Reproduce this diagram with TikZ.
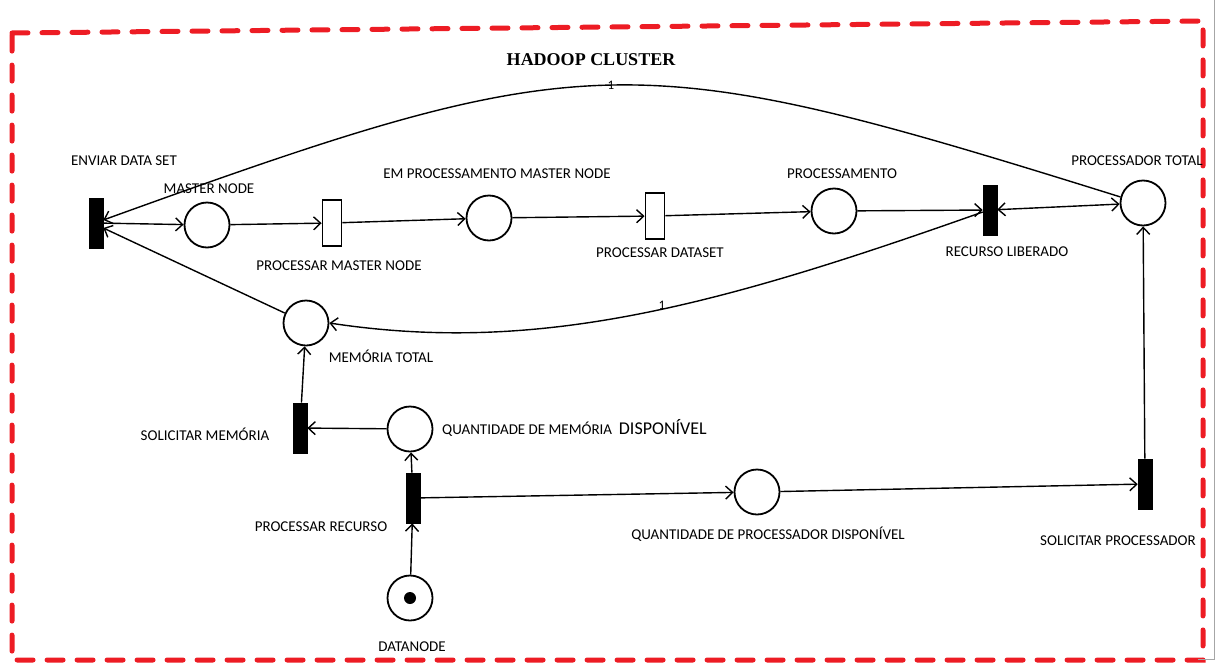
\documentclass[tikz,border=0pt]{standalone}
\usepackage{fontspec}
\setmainfont{Carlito}
\newfontfamily\titlefont{Liberation Serif}
\usetikzlibrary{arrows.meta}
\definecolor{clusterred}{RGB}{237,28,36}
\begin{document}
\begin{tikzpicture}[x=1pt,y=-1pt,
  place/.style={circle, draw=black, line width=1.8pt, minimum size=45pt, inner sep=0pt},
  bartrans/.style={rectangle, fill=black, draw=black, line width=0.6pt,
    minimum width=14pt, minimum height=50pt, inner sep=0pt},
  opentrans/.style={rectangle, draw=black, fill=white, line width=1.8pt,
    minimum width=19pt, minimum height=46pt, inner sep=0pt},
  token/.style={circle, fill=black, minimum size=12pt, inner sep=0pt},
  lbl/.style={font=\fontsize{15}{18}\selectfont, inner sep=0pt,
    text height=9.7pt, text depth=0pt},
  weight/.style={font=\fontsize{13}{15}\selectfont, inner sep=0pt},
  arc/.style={line width=1.4pt,
    -{Straight Barb[length=7pt,width=13pt,line width=1.4pt]}},
  twoway/.style={line width=1.4pt,
    {Straight Barb[length=7pt,width=13pt,line width=1.4pt]}-{Straight Barb[length=7pt,width=13pt,line width=1.4pt]}},
  frame/.style={draw=clusterred, line width=5pt, line cap=round,
    dash pattern=on 16pt off 14pt},
]
\useasboundingbox (0,0) rectangle (1217,664);

% cluster frame
\coordinate (f1) at (12,33);
\coordinate (f2) at (1203,21);
\coordinate (f3) at (1203,660);
\coordinate (f4) at (12,660);
\draw[frame] (f1) -- (f2) -- (f3) -- (f4) -- cycle;
\coordinate (e1) at (1214,0);
\coordinate (e2) at (1214,659);
\coordinate (e3) at (1198,659);
\draw[gray!70, line width=0.8pt] (e1) -- (e2) -- (e3);

\node[font=\titlefont\bfseries\fontsize{18}{20}\selectfont, inner sep=0pt] (title) at (591,60) {HADOOP CLUSTER};

% places
\node[place] (mn)   at (207,225) {};
\node[place] (emp)  at (489,218) {};
\node[place] (proc) at (834,211) {};
\node[place] (pt)   at (1143,203) {};
\node[place] (mt)   at (306,323) {};
\node[place] (qm)   at (410,429) {};
\node[place] (qp)   at (757,492) {};
\node[place] (dn)   at (410,598) {};
\node[token] (tok)  at (410,598) {};

% transitions
\node[bartrans]  (env) at (96,223) {};
\node[opentrans] (pmn) at (332,223) {};
\node[opentrans] (pds) at (655,216) {};
\node[bartrans]  (rl)  at (990,210) {};
\node[bartrans]  (sm)  at (300,428) {};
\node[bartrans]  (pr)  at (413,498) {};
\node[bartrans]  (sp)  at (1145,484) {};

% labels
\node[lbl] (lenv)  at (124,161) {ENVIAR DATA SET};
\node[lbl] (lmn)   at (209,189) {MASTER NODE};
\node[lbl] (lpmn)  at (339,266) {PROCESSAR MASTER NODE};
\node[lbl] (lemp)  at (497,174) {EM PROCESSAMENTO MASTER NODE};
\node[lbl] (lpds)  at (660,253) {PROCESSAR DATASET};
\node[lbl] (lproc) at (842,174) {PROCESSAMENTO};
\node[lbl] (lrl)   at (1007,252) {RECURSO LIBERADO};
\node[lbl] (lpt)   at (1137,161) {PROCESSADOR TOTAL};
\node[lbl] (lmt)   at (381,358) {MEMÓRIA TOTAL};
\node[lbl] (lsm)   at (205,436) {SOLICITAR MEMÓRIA};
\node[lbl, anchor=base west, text height=, text depth=] (lqm) at (442,434)
  {QUANTIDADE DE MEMÓRIA\ \ {\fontsize{18}{20}\selectfont DISPONÍVEL}};
\node[lbl] (lpr)   at (321,527) {PROCESSAR RECURSO};
\node[lbl] (lqp)   at (768,535) {QUANTIDADE DE PROCESSADOR DISPONÍVEL};
\node[lbl] (lsp)   at (1118,541) {SOLICITAR PROCESSADOR};
\node[lbl] (ldn)   at (412,647) {DATANODE};

% arcs
\draw[arc] (env) -- (mn);
\draw[arc] (mn) -- (pmn);
\draw[arc] (pmn) -- (emp);
\draw[arc] (emp) -- (pds);
\draw[arc] (pds) -- (proc);
\draw[arc] (proc) -- (rl);
\draw[twoway] (rl) -- (pt);
\draw[arc] (pt.165) .. controls (631,44) and (590,44) .. ([yshift=3pt]env.east)
  node[weight, pos=0.5] (w1) {1};
\draw[arc] (mt) -- ([yshift=-5pt]env.east);
\draw[arc] ([yshift=-2pt]rl.west) .. controls (720,305) and (540,355) .. (mt.east);
\node[weight] (w2) at (662,305) {1};
\draw[arc] (sm) -- (mt);
\draw[arc] (qm) -- (sm);
\draw[arc] (pr) -- (qm);
\draw[arc] (pr) -- (qp);
\draw[arc] (qp) -- (sp);
\draw[arc] (sp) -- (pt);
\draw[arc] (dn) -- (pr);
\end{tikzpicture}
\end{document}
